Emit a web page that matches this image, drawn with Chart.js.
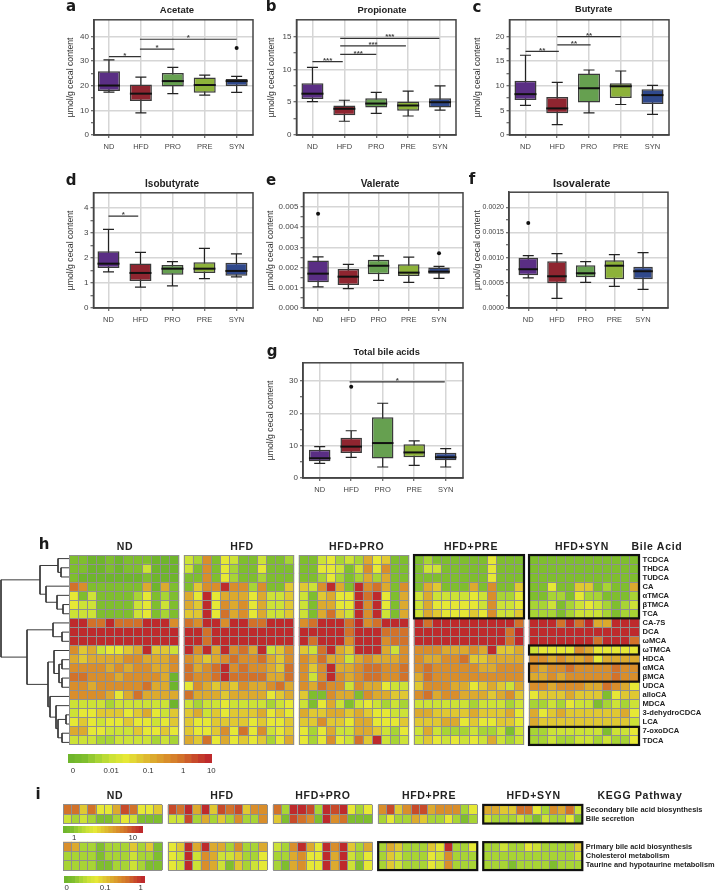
<!DOCTYPE html>
<html>
<head>
<meta charset="utf-8">
<title>Cecal metabolites and bile acids</title>
<script src="https://cdn.jsdelivr.net/npm/chart.js@4"></script>
<style>
  html, body { margin: 0; background: #fff; }
  #page { position: relative; width: 715px; height: 890px; overflow: hidden; font-family: "Liberation Sans", Arial, sans-serif; }
  canvas { position: absolute; }
  .txt { position: absolute; transform: translate(-50%, -50%); white-space: nowrap; color: #222; font-weight: bold; }
</style>
</head>
<body>
<div id="page"></div>
<script>
"use strict";

var groups = ["ND", "HFD", "PRO", "PRE", "SYN"];
var boxColors = ["#5a2e84", "#8f2530", "#66a050", "#8db23a", "#30498c"];

// each box: low whisker, q1, median, q3, high whisker
var acetateBoxes = [[17.4, 17.9, 20.1, 25.9, 30.5], [9, 13.8, 16.8, 20.5, 23.5], [16.8, 19.7, 21.9, 25.2, 27.5], [16.2, 17.2, 20.3, 23.4, 24.3], [17.3, 19.9, 21.9, 22.8, 23.8]];
var acetateOutliers = [[4, 35.3]];
var acetateSig = [[0, 1, 31.8, "*"], [0.97, 2.05, 34.9, "*"], [0.97, 4, 38.9, "*"]];
var acetateTicks = [0, 10, 20, 30, 40];

var propionateBoxes = [[5.1, 5.5, 6.3, 7.9, 10.3], [2.1, 3.0, 4.0, 4.5, 5.3], [3.3, 4.2, 4.8, 5.6, 6.5], [2.9, 3.7, 4.5, 5.1, 6.7], [3.8, 4.2, 5.0, 5.6, 7.5]];
var propionateOutliers = [];
var propionateSig = [[0, 0.95, 11.2, "***"], [0.87, 2, 12.3, "***"], [0.87, 2.93, 13.6, "***"], [0.87, 3.98, 14.75, "***"]];
var propionateTicks = [0, 5, 10, 15];

var butyrateBoxes = [[6.0, 7.1, 8.3, 11.0, 16.2], [2.1, 4.4, 5.4, 7.7, 10.7], [4.5, 6.6, 9.5, 12.5, 13.2], [6.2, 7.5, 9.9, 10.5, 13.0], [4.2, 6.3, 8.1, 9.3, 10.1]];
var butyrateOutliers = [];
var butyrateSig = [[0, 1.05, 17, "**"], [1, 2.05, 18.3, "**"], [1, 3, 20, "**"]];
var butyrateTicks = [0, 5, 10, 15, 20];

var isobutyrateBoxes = [[1.44, 1.6, 1.77, 2.27, 3.14], [0.83, 1.08, 1.4, 1.78, 2.22], [0.88, 1.33, 1.57, 1.72, 1.85], [1.17, 1.4, 1.57, 1.83, 2.38], [1.24, 1.29, 1.48, 1.81, 2.16]];
var isobutyrateOutliers = [];
var isobutyrateSig = [[0, 0.93, 3.67, "*"]];
var isobutyrateTicks = [0, 1, 2, 3, 4];

var valerateBoxes = [[0.00105, 0.00127, 0.0017, 0.00235, 0.00253], [0.00096, 0.00114, 0.00155, 0.00193, 0.00216], [0.00137, 0.00167, 0.00209, 0.00239, 0.00258], [0.00127, 0.00158, 0.00175, 0.00216, 0.00252], [0.00147, 0.0017, 0.0018, 0.00201, 0.00206]];
var valerateOutliers = [[0, 0.00466], [4, 0.00271]];
var valerateSig = [];
var valerateTicks = [0, 0.001, 0.002, 0.003, 0.004, 0.005];

var isovalerateBoxes = [[0.0006, 0.00065, 0.00077, 0.001, 0.00104], [0.00019, 0.00049, 0.00063, 0.00093, 0.00108], [0.00051, 0.00061, 0.00069, 0.00085, 0.00092], [0.00043, 0.00057, 0.00084, 0.00095, 0.00106], [0.00037, 0.00057, 0.00073, 0.00082, 0.0011]];
var isovalerateOutliers = [[0, 0.00169]];
var isovalerateSig = [];
var isovalerateTicks = [0, 0.0005, 0.001, 0.0015, 0.002];

var bileTotalBoxes = [[4.5, 5.2, 6.1, 8.7, 9.7], [6.4, 7.7, 9.7, 12.4, 14.6], [3.4, 6.0, 10.8, 18.8, 23.1], [3.9, 6.4, 7.9, 10.4, 11.5], [3.4, 5.5, 6.4, 7.8, 9.1]];
var bileTotalOutliers = [[1, 28.2]];
var bileTotalSig = [[0.95, 3.97, 29.7, "*"]];
var bileTotalTicks = [0, 10, 20, 30];

var bileAcids = ["TCDCA", "THDCA", "TUDCA", "CA", "αTMCA", "βTMCA", "TCA", "CA-7S", "DCA", "ωMCA", "ωTMCA", "HDCA", "αMCA", "βMCA", "UDCA", "alloCA", "MDCA", "3-dehydroCDCA", "LCA", "7-oxoDCA", "TDCA"];
var heatGroups = ["ND", "HFD", "HFD+PRO", "HFD+PRE", "HFD+SYN"];

// heatmap cells are positions on the colour bar, 0 (green) to 10 (red)
var bileND = [
  [1,1,0,0,1,0,1,1,1,0,0,0], [1,1,0,0,1,0,1,1,3,0,0,0], [1,0,0,0,0,0,0,0,1,0,0,0],
  [8,7,1,1,1,1,1,1,6,0,6,1], [4,1,3,1,1,1,1,2,4,1,2,1], [4,3,3,1,1,1,1,3,4,1,3,1], [3,3,3,1,1,1,1,3,4,1,2,1],
  [10,10,8,8,10,8,8,8,10,10,10,7], [10,10,10,10,10,10,10,10,10,10,10,10], [10,10,10,10,10,10,10,10,10,10,10,10],
  [7,5,6,3,4,4,5,6,10,5,5,3], [6,5,6,6,6,6,7,7,6,6,6,7], [7,7,7,7,6,7,6,7,7,6,6,7], [8,8,7,7,7,6,7,7,7,7,6,0],
  [7,7,6,7,7,7,7,7,8,6,6,0], [7,7,7,7,6,4,6,8,6,6,6,6], [3,3,3,3,2,3,3,3,3,3,3,0], [3,4,4,5,5,5,4,5,6,4,3,5],
  [4,5,4,3,4,4,5,4,4,3,4,5], [6,6,4,4,3,3,3,5,4,4,5,4], [3,3,3,2,2,3,3,3,3,2,3,2]
];
var bileHFD = [
  [3,2,7,1,4,3,1,1,3,1,1,2], [3,1,7,1,4,2,1,1,4,1,1,1], [1,1,7,1,4,2,1,1,2,1,1,1],
  [1,5,7,7,10,7,7,2,7,1,1,5], [6,4,10,4,6,6,6,4,6,3,3,5], [6,5,10,4,7,6,7,4,6,3,3,5], [5,5,10,4,8,6,7,4,6,3,3,5],
  [8,7,10,10,7,10,10,8,8,10,10,10], [10,10,8,10,10,10,10,10,10,10,10,10], [10,10,8,10,10,10,10,10,10,10,10,10],
  [10,7,10,6,10,7,8,6,10,3,5,7], [7,6,5,6,7,8,7,7,8,6,5,7], [8,6,7,8,10,7,8,7,7,6,5,8], [8,7,7,8,10,8,8,8,8,6,6,8],
  [4,7,6,5,6,5,7,6,6,7,8,6], [8,6,6,6,5,6,6,6,6,4,5,6], [3,2,3,3,4,3,3,3,3,2,3,4], [5,6,3,5,4,5,5,5,6,4,5,4],
  [5,4,4,5,5,5,5,4,5,4,4,5], [5,4,4,5,7,4,8,4,7,3,4,5], [6,5,8,4,6,4,5,4,5,2,4,6]
];
var bilePRO = [
  [1,1,3,4,2,3,2,6,4,5,1,1], [1,1,4,4,3,1,3,7,4,7,1,1], [1,1,2,4,2,1,2,6,2,6,1,1],
  [5,3,7,10,6,1,10,7,8,6,1,7], [3,1,5,6,4,4,10,8,10,4,1,6], [3,1,6,6,4,4,10,7,10,4,1,6], [3,1,6,8,5,3,10,7,10,3,1,6],
  [7,8,10,10,10,8,10,7,8,10,10,10], [10,10,10,10,10,8,10,10,10,8,8,8], [10,8,10,10,10,7,10,10,10,7,8,8],
  [5,3,8,10,6,5,10,10,10,6,3,7], [7,6,8,6,6,3,6,7,6,6,6,7], [7,5,7,10,6,6,7,8,8,7,7,8], [7,3,7,10,7,6,7,8,8,7,7,8],
  [7,6,8,7,7,3,7,6,6,4,3,3], [5,1,1,7,6,6,1,7,6,6,5,5], [3,1,4,6,3,1,3,4,3,2,3,2], [6,5,5,6,6,5,6,5,4,4,3,3],
  [5,5,7,5,5,4,6,6,4,4,4,5], [4,2,4,6,3,3,6,6,5,3,2,4], [4,2,4,7,4,3,8,5,10,3,2,3]
];
var bilePRE = [
  [1,2,1,1,1,1,1,1,4,1,1,1], [1,3,3,1,1,1,1,1,4,1,1,1], [1,1,1,1,1,1,1,1,4,1,1,1],
  [1,6,5,1,1,1,6,1,7,1,1,5], [3,6,3,3,3,3,4,3,7,2,2,4], [3,6,4,4,4,4,4,3,7,3,3,4], [3,6,5,4,4,4,5,4,7,3,3,5],
  [10,8,10,10,10,10,10,10,10,10,10,8], [10,10,10,10,10,10,10,10,10,10,8,10], [10,10,10,10,10,10,10,10,10,10,8,10],
  [7,7,7,6,6,6,7,6,10,5,5,6], [7,6,6,7,7,8,5,5,6,6,6,6], [7,8,7,7,7,7,7,6,6,7,7,7], [6,8,7,7,7,7,7,7,7,7,7,7],
  [5,7,7,7,6,6,4,5,6,5,3,6], [7,8,6,7,7,6,6,6,5,6,7,5], [3,3,3,3,3,3,2,3,3,3,2,3], [6,6,5,5,5,5,6,5,5,5,6,4],
  [5,5,5,6,6,4,5,4,4,5,5,4], [3,6,3,2,2,2,3,2,2,3,1,3], [3,5,4,3,4,3,4,3,6,3,2,3]
];
var bileSYN = [
  [1,1,1,1,1,1,1,1,1,1,1,1], [1,1,1,1,1,1,1,1,1,1,1,1], [1,1,1,1,1,1,1,1,1,1,1,1],
  [1,1,4,1,1,5,5,1,2,1,1,6], [1,1,2,2,1,4,2,2,1,1,1,2], [2,2,3,1,2,3,4,3,2,1,2,3], [2,2,2,1,2,3,3,3,2,1,2,2],
  [10,10,10,8,10,8,10,6,6,10,10,10], [10,10,10,10,10,10,10,10,10,10,10,10], [10,10,10,10,10,10,10,8,10,10,10,8],
  [3,4,4,4,4,7,6,4,4,4,4,4], [7,7,6,7,6,6,7,4,6,6,6,6], [7,6,7,7,8,7,7,7,7,8,7,7], [6,6,7,6,7,7,7,7,7,8,7,7],
  [7,7,6,7,7,7,6,6,8,7,6,4], [4,5,5,5,6,5,5,5,1,4,5,5], [2,2,3,2,4,3,3,1,2,3,2,3], [6,4,5,6,5,5,5,5,5,5,6,4],
  [6,5,5,5,5,5,5,5,5,5,5,3], [2,2,3,3,3,3,3,3,1,3,3,4], [2,2,3,2,2,3,3,2,3,2,2,4]
];

var keggPathways = ["Secondary bile acid biosynthesis", "Bile secretion", "", "", "Primary bile acid biosynthesis", "Cholesterol metabolism", "Taurine and hypotaurine metabolism"];
var keggND = [[8,8,5,8,4,4,6,9,8,4,4,5], [3,2,3,2,1,1,2,4,3,1,1,1], [7,6,2,2,1,2,2,2,5,2,5,1], [2,2,2,2,1,2,2,2,3,2,2,1], [2,2,2,2,1,1,2,2,3,2,1,1]];
var keggHFD = [[9,8,10,6,10,5,9,8,9,5,7,7], [3,3,9,2,6,2,5,2,7,2,2,7], [4,5,10,6,10,6,6,2,7,2,2,6], [4,3,10,3,7,6,3,3,5,2,2,4], [4,3,10,3,7,6,3,1,5,2,3,4]];
var keggPRO = [[8,2,10,10,9,2,10,9,10,4,2,4], [5,1,9,8,7,1,10,7,8,1,1,1], [3,2,7,10,6,4,10,7,10,5,2,6], [2,2,6,7,4,4,10,6,10,3,2,4], [2,1,6,7,4,4,10,6,10,3,1,4]];
var keggPRE = [[7,9,5,7,9,9,6,7,7,7,2,4], [2,4,2,2,6,5,2,2,4,2,1,2], [2,6,5,2,2,2,5,4,10,2,2,4], [2,5,3,2,2,2,4,3,7,2,2,2], [2,5,3,2,2,2,4,3,7,2,2,2]];
var keggSYN = [[6,6,5,5,8,8,4,2,7,6,8,3], [3,2,2,2,3,2,1,3,2,2,4,1], [2,2,3,2,2,4,3,2,2,2,2,5], [2,2,2,2,2,2,2,2,2,2,2,3], [2,2,2,1,2,2,2,2,1,2,2,2]];

var heatPalette = ["#6fb52c", "#7fbe2e", "#a8d434", "#cde236", "#e6e835", "#e0c832", "#dcaa2e", "#d98e2b", "#d2722a", "#c84a2a", "#be2a2c"];
var colorbarLevels = [0, 0.5, 1, 1.5, 2, 2.5, 3, 3.5, 4, 4.5, 5, 5.5, 6, 6.5, 7, 7.5, 8, 8.5, 9, 9.5, 10];
var bileBarTicks = [[0.1, "0"], [2.9, "0.01"], [5.6, "0.1"], [8.15, "1"], [10.2, "10"]];
var keggBarTopTicks = [[1.2, "1"], [8.9, "10"]];
var keggBarBottomTicks = [[0.1, "0"], [5.1, "0.1"], [9.7, "1"]];

// dendrogram: [link position, child, child], a child is a row index or another link
var dendroTree = [1,
  [40, [58, 0, [61, 1, 2]], [46, 3, [57, 4, [63, 5, 6]]]],
  [27, [53, 7, [62, 8, 9]],
    [48, [54, 10, [59, [62, 11, 12], [62, 13, 14]]],
      [50, 15, [56, 16, [58, [66, 17, 18], [62, 19, 20]]]]]]
];

var page = document.getElementById("page");
Chart.defaults.animation = false;
Chart.defaults.responsive = false;
Chart.defaults.events = [];
Chart.defaults.font.family = '"Liberation Sans", Arial, sans-serif';
Chart.defaults.plugins.legend.display = false;
Chart.defaults.plugins.tooltip.enabled = false;

function addCanvas(left, top, width, height) {
  var c = document.createElement("canvas");
  c.width = width;
  c.height = height;
  c.style.left = left + "px";
  c.style.top = top + "px";
  page.appendChild(c);
  return c.getContext("2d");
}

function addText(str, x, y, css) {
  var d = document.createElement("div");
  d.className = "txt";
  d.textContent = str;
  d.style.left = x + "px";
  d.style.top = y + "px";
  d.style.cssText += css;
  page.appendChild(d);
}

function mix(a, b, t) {
  var out = "#";
  for (var i = 1; i < 7; i += 2) {
    var v = Math.round(parseInt(a.substr(i, 2), 16) * (1 - t) + parseInt(b.substr(i, 2), 16) * t);
    out += ("0" + v.toString(16)).slice(-2);
  }
  return out;
}

function levelColor(v) {
  var low = Math.floor(v);
  if (low >= heatPalette.length - 1) return heatPalette[heatPalette.length - 1];
  return mix(heatPalette[low], heatPalette[low + 1], v - low);
}

function boxChart(p, boxes, outliers, sig, ticks, digits) {
  var top = p.top - 6, height = p.bottom - p.top + 26;
  var ctx = addCanvas(p.left - p.axisW, top, p.right - p.left + p.axisW + 6, height);
  var allTicks = [];
  ticks.forEach(function (t, i) {
    allTicks.push(t);
    if (i < ticks.length - 1) allTicks.push((t + ticks[i + 1]) / 2);
  });
  var datasets = [{
    data: boxes.map(function (b, i) { return { x: i, y: [b[1], b[3]] }; }),
    backgroundColor: boxColors,
    borderColor: "#3a3a3a",
    borderWidth: 1.5,
    borderSkipped: false,
    inflateAmount: 0,
    barThickness: p.boxW,
    order: 2
  }];
  sig.forEach(function (s) {
    datasets.push({
      type: "line",
      data: [{ x: s[0], y: s[2] }, { x: s[1], y: s[2] }],
      borderColor: "#333",
      borderWidth: 1.2,
      pointRadius: 0,
      order: 1
    });
  });
  if (outliers.length) {
    datasets.push({
      type: "scatter",
      data: outliers.map(function (o) { return { x: o[0], y: o[1] }; }),
      backgroundColor: "#111",
      pointRadius: 2,
      borderWidth: 0,
      order: 0
    });
  }
  var details = {
    id: "boxDetails",
    beforeDatasetsDraw: function (chart) {
      var c = chart.ctx, xs = chart.scales.x, ys = chart.scales.y;
      c.save();
      c.strokeStyle = "#222";
      c.lineWidth = 1.2;
      boxes.forEach(function (b, i) {
        var x = xs.getPixelForValue(i);
        c.beginPath();
        c.moveTo(x, ys.getPixelForValue(b[0]));
        c.lineTo(x, ys.getPixelForValue(b[4]));
        [b[0], b[4]].forEach(function (v) {
          c.moveTo(x - p.capW / 2, ys.getPixelForValue(v));
          c.lineTo(x + p.capW / 2, ys.getPixelForValue(v));
        });
        c.stroke();
      });
      c.restore();
    },
    afterDatasetsDraw: function (chart) {
      var c = chart.ctx, xs = chart.scales.x, ys = chart.scales.y, a = chart.chartArea;
      c.save();
      c.strokeStyle = "#111";
      c.lineWidth = 2;
      boxes.forEach(function (b, i) {
        var x = xs.getPixelForValue(i), y = ys.getPixelForValue(b[2]);
        c.beginPath();
        c.moveTo(x - p.boxW / 2, y);
        c.lineTo(x + p.boxW / 2, y);
        c.stroke();
      });
      c.fillStyle = "#444";
      c.font = "bold 8px " + Chart.defaults.font.family;
      c.textAlign = "center";
      c.textBaseline = "middle";
      sig.forEach(function (s) {
        c.fillText(s[3], xs.getPixelForValue((s[0] + s[1]) / 2), ys.getPixelForValue(s[2]) - 1);
      });
      c.strokeStyle = "#444";
      c.lineWidth = 1.5;
      c.strokeRect(a.left, a.top, a.right - a.left, a.bottom - a.top);
      c.restore();
    }
  };
  return new Chart(ctx, {
    type: "bar",
    data: { datasets: datasets },
    plugins: [details],
    options: {
      layout: { padding: { top: 6, right: 6 } },
      scales: {
        x: {
          type: "linear",
          offset: false,
          min: -(p.first - p.left) / p.step,
          max: (p.right - p.first) / p.step,
          afterBuildTicks: function (s) { s.ticks = groups.map(function (g, i) { return { value: i }; }); },
          afterFit: function (s) { s.height = 20; },
          grid: { offset: false, color: "#d6d6d6", lineWidth: 1.5, tickColor: "#444", tickLength: 3, tickWidth: 1 },
          border: { color: "#444", width: 1.5 },
          ticks: {
            autoSkip: false, maxRotation: 0, padding: 4, color: "#444", font: { size: 7.5 },
            callback: function (v) { return groups[v]; }
          }
        },
        y: {
          min: 0,
          max: p.yMax,
          afterBuildTicks: function (s) { s.ticks = allTicks.map(function (v) { return { value: v }; }); },
          afterFit: function (s) { s.width = p.axisW; },
          title: { display: true, text: "µmol/g cecal content", color: "#333", font: { size: 8.7 }, padding: 0 },
          grid: {
            color: function (c) { return c.index % 2 ? "rgba(0,0,0,0)" : "#d6d6d6"; },
            lineWidth: 1.5, tickColor: "#444", tickLength: 3, tickWidth: 1
          },
          border: { color: "#444", width: 1.5 },
          ticks: {
            autoSkip: false, padding: 2, color: "#444", font: { size: p.tickSize },
            callback: function (v, i) { return i % 2 ? "" : v.toFixed(digits); }
          }
        }
      }
    }
  });
}

function heatChart(p, matrices, rowNames, rowPos, rowRuns, highlights) {
  var totalCols = matrices.length * 12 + (matrices.length - 1) * p.gapCols;
  var colW = (p.right - p.left) / totalCols;
  var groupStep = 12 + p.gapCols;
  var points = [], colors = [];
  matrices.forEach(function (m, g) {
    m.forEach(function (row, r) {
      row.forEach(function (v, c) {
        points.push({ x: g * groupStep + c, y: [rowPos[r], rowPos[r] + 1] });
        colors.push(levelColor(v));
      });
    });
  });
  var frames = {
    id: "heatFrames",
    afterDatasetsDraw: function (chart) {
      var c = chart.ctx, xs = chart.scales.x, ys = chart.scales.y;
      c.save();
      // cell separators, one pixel wide and snapped so they stay crisp
      c.strokeStyle = "#8f8f8f";
      c.lineWidth = 1;
      matrices.forEach(function (m, g) {
        var x0 = xs.getPixelForValue(g * groupStep - 0.5), x1 = xs.getPixelForValue(g * groupStep + 11.5);
        rowRuns.forEach(function (run) {
          var y0 = ys.getPixelForValue(run[0]), y1 = ys.getPixelForValue(run[1]);
          c.beginPath();
          for (var k = 0; k <= 12; k++) {
            var x = Math.floor(xs.getPixelForValue(g * groupStep - 0.5 + k)) + 0.5;
            c.moveTo(x, y0);
            c.lineTo(x, y1);
          }
          for (var r = run[0]; r <= run[1]; r++) {
            var y = Math.floor(ys.getPixelForValue(r)) + 0.5;
            c.moveTo(x0, y);
            c.lineTo(x1, y);
          }
          c.stroke();
        });
      });
      c.strokeStyle = "#111";
      c.lineWidth = 2.2;
      highlights.forEach(function (h) {
        var x0 = xs.getPixelForValue(h[0] * groupStep - 0.5), x1 = xs.getPixelForValue(h[0] * groupStep + 11.5);
        var y0 = ys.getPixelForValue(h[1]), y1 = ys.getPixelForValue(h[2]);
        c.strokeRect(x0, y0, x1 - x0, y1 - y0);
      });
      c.restore();
    }
  };
  var ctx = addCanvas(p.left - 3, p.top - 7, 715 - p.left + 3, p.bottom - p.top + 14);
  return new Chart(ctx, {
    type: "bar",
    data: {
      datasets: [{
        data: points, backgroundColor: colors, borderWidth: 0,
        borderSkipped: false, inflateAmount: 0.3, barThickness: colW
      }]
    },
    plugins: [frames],
    options: {
      layout: { padding: { left: 3, top: 7, bottom: 7 } },
      scales: {
        x: { type: "linear", display: false, offset: false, min: -0.5, max: totalCols - 0.5 },
        y: { display: false, reverse: true, min: 0, max: rowNames.length },
        rows: {
          type: "category", axis: "y", display: true, position: "right", labels: rowNames, offset: true,
          afterFit: function (s) { s.width = 715 - p.right; },
          grid: { display: false, drawTicks: false }, border: { display: false },
          ticks: { autoSkip: false, padding: 3.5, color: "#222", font: { size: p.labelSize, weight: "bold" } }
        }
      }
    }
  });
}

function colorbar(left, top, width, height, barTicks, labelGap) {
  var pad = 10;
  var ctx = addCanvas(left - pad, top, width + 2 * pad, height + 14);
  var step = width / (colorbarLevels.length);
  return new Chart(ctx, {
    type: "bar",
    data: {
      datasets: [{
        data: colorbarLevels.map(function (v) { return { x: v, y: [0, 1] }; }),
        backgroundColor: colorbarLevels.map(levelColor),
        borderWidth: 0, inflateAmount: 0.3, barThickness: step
      }]
    },
    options: {
      layout: { padding: { left: pad, right: pad } },
      scales: {
        x: {
          type: "linear", offset: false, min: -0.25, max: 10.25,
          afterBuildTicks: function (s) { s.ticks = barTicks.map(function (t) { return { value: t[0] }; }); },
          afterFit: function (s) { s.height = 14; },
          grid: { display: false, drawTicks: false }, border: { display: false },
          ticks: {
            autoSkip: false, maxRotation: 0, padding: labelGap, color: "#333", font: { size: 7.8 },
            callback: function (v, i) { return barTicks[i] ? barTicks[i][1] : ""; }
          }
        },
        y: { display: false, min: 0, max: 1 }
      }
    }
  });
}

function walkDendro(node, out) {
  if (typeof node === "number") return { x: 69, y: node + 0.5 };
  var a = walkDendro(node[1], out), b = walkDendro(node[2], out);
  out.push({ x: a.x, y: a.y }, { x: node[0], y: a.y }, { x: node[0], y: b.y }, { x: b.x, y: b.y }, { x: NaN, y: NaN });
  return { x: node[0], y: (a.y + b.y) / 2 };
}

boxChart({ left: 94.3, right: 253.7, top: 18.7, bottom: 135, first: 109.3, step: 32, axisW: 29, boxW: 22, capW: 11, yMax: 46.8, tickSize: 8 }, acetateBoxes, acetateOutliers, acetateSig, acetateTicks, 0);
boxChart({ left: 296.7, right: 456.7, top: 18.7, bottom: 135, first: 312.7, step: 32, axisW: 30.5, boxW: 22, capW: 11, yMax: 17.57, tickSize: 8 }, propionateBoxes, propionateOutliers, propionateSig, propionateTicks, 0);
boxChart({ left: 509.3, right: 669, top: 18.7, bottom: 135, first: 525.3, step: 31.8, axisW: 37.5, boxW: 22, capW: 11, yMax: 23.4, tickSize: 8 }, butyrateBoxes, butyrateOutliers, butyrateSig, butyrateTicks, 0);
boxChart({ left: 93.7, right: 253.3, top: 192, bottom: 308.3, first: 108.7, step: 32, axisW: 28.5, boxW: 22, capW: 11, yMax: 4.6, tickSize: 8 }, isobutyrateBoxes, isobutyrateOutliers, isobutyrateSig, isobutyrateTicks, 0);
boxChart({ left: 303.7, right: 463.3, top: 192, bottom: 308.3, first: 318.3, step: 30.25, axisW: 38.5, boxW: 21.5, capW: 11, yMax: 0.0057, tickSize: 8 }, valerateBoxes, valerateOutliers, valerateSig, valerateTicks, 3);
boxChart({ left: 509, right: 668.3, top: 192, bottom: 308.3, first: 528.3, step: 28.75, axisW: 37, boxW: 19.5, capW: 11, yMax: 0.0023, tickSize: 7 }, isovalerateBoxes, isovalerateOutliers, isovalerateSig, isovalerateTicks, 4);
boxChart({ left: 303.3, right: 463.3, top: 361.7, bottom: 478.3, first: 320, step: 31.5, axisW: 38, boxW: 21.5, capW: 11, yMax: 35.6, tickSize: 8 }, bileTotalBoxes, bileTotalOutliers, bileTotalSig, bileTotalTicks, 0);

heatChart({ left: 69, right: 639, top: 554, bottom: 746.7, gapCols: 0.55, labelSize: 7.6 },
  [bileND, bileHFD, bilePRO, bilePRE, bileSYN], bileAcids,
  [0, 1, 2, 3, 4, 5, 6, 7, 8, 9, 10, 11, 12, 13, 14, 15, 16, 17, 18, 19, 20],
  [[0, 21]],
  [[3, 0, 7], [4, 0, 7], [4, 10, 11], [4, 12, 14], [4, 19, 21]]);
heatChart({ left: 63, right: 582.3, top: 804, bottom: 871.3, gapCols: 0.727, labelSize: 7.4 },
  [keggND, keggHFD, keggPRO, keggPRE, keggSYN], keggPathways,
  [0, 1, 4, 5, 6],
  [[0, 2], [4, 7]],
  [[3, 4, 7], [4, 0, 2], [4, 4, 7]]);

var dendroPoints = [];
walkDendro(dendroTree, dendroPoints);
new Chart(addCanvas(0, 554, 69, 193), {
  type: "scatter",
  data: { datasets: [{ data: dendroPoints, showLine: true, spanGaps: false, borderColor: "#3a3a3a", borderWidth: 1, pointRadius: 0 }] },
  options: {
    scales: {
      x: { display: false, min: 0, max: 69 },
      y: { display: false, reverse: true, min: 0, max: 21 }
    }
  }
});

colorbar(68, 754, 144, 9, bileBarTicks, 3);
colorbar(63, 826, 80, 7, keggBarTopTicks, 0);
colorbar(64, 876, 81, 7, keggBarBottomTicks, 0);

var letterCss = "font-family:'DejaVu Sans';font-size:15px;color:#1a1a1a;";
[["a", 71, 6], ["b", 271, 6], ["c", 477, 7], ["d", 71, 180], ["e", 271, 180], ["f", 472, 179], ["g", 272, 351], ["h", 44, 544], ["i", 38, 794]].forEach(function (l) {
  addText(l[0], l[1], l[2], letterCss);
});
[["Acetate", 177, 9, 9.5], ["Propionate", 382, 9, 9.4], ["Butyrate", 593.7, 9, 9.2], ["Isobutyrate", 172, 183, 10], ["Valerate", 380, 183, 10.1], ["Isovalerate", 581.7, 183, 11], ["Total bile acids", 386.7, 352, 9.3]].forEach(function (t) {
  addText(t[0], t[1], t[2], "font-size:" + t[3] + "px;");
});

var headCss = "font-size:10.5px;letter-spacing:0.7px;";
var hHeadX = [125, 242, 356.7, 471, 582];
var iHeadX = [115, 222, 323, 429, 533.7];
heatGroups.forEach(function (g, i) {
  addText(g, hHeadX[i], 546, headCss);
  addText(g, iHeadX[i], 795, headCss);
});
addText("Bile Acid", 657, 546, headCss);
addText("KEGG Pathway", 640, 795, headCss);
</script>
</body>
</html>
